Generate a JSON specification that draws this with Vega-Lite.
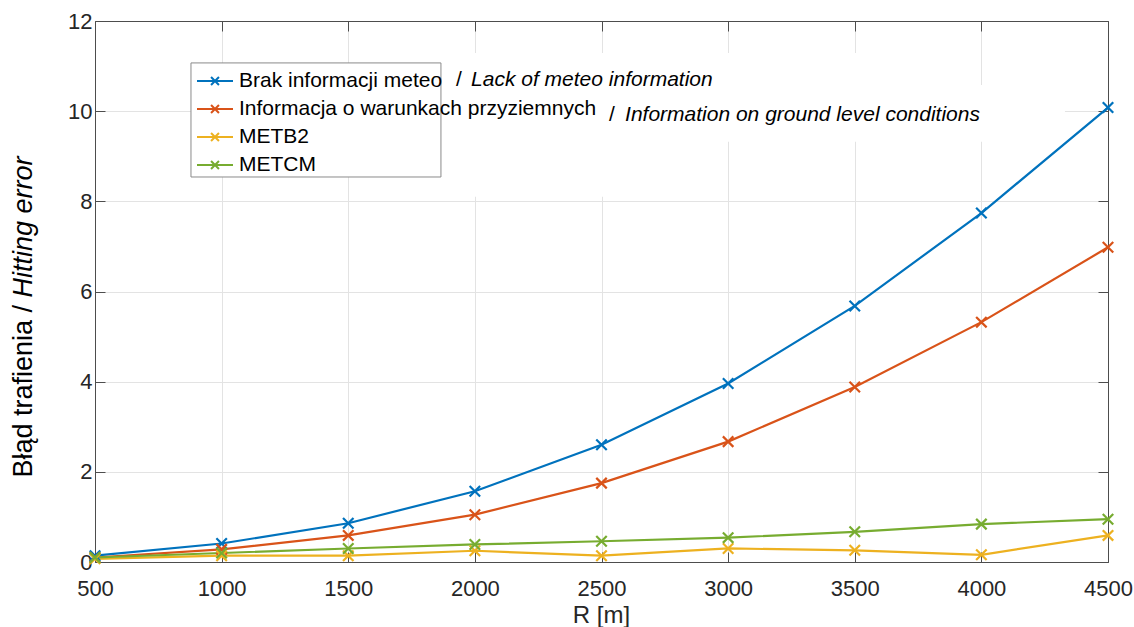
{
  "$schema": "https://vega.github.io/schema/vega-lite/v6.json",
  "width": 1013,
  "height": 541,
  "autosize": {"type": "none"},
  "padding": {"left": 95, "top": 21, "right": 26, "bottom": 65},
  "background": "white",
  "config": {
    "view": {"stroke": null},
    "font": "Liberation Sans",
    "axis": {
      "labelFont": "Liberation Sans",
      "titleFont": "Liberation Sans",
      "labelColor": "#262626",
      "titleColor": "#000000",
      "titleFontWeight": "normal",
      "domainColor": "#4d4d4d",
      "domainWidth": 1,
      "tickColor": "#4d4d4d",
      "tickWidth": 1,
      "tickSize": -10,
      "gridColor": "#e3e3e3",
      "gridWidth": 1,
      "labelFlush": false,
      "labelOverlap": false
    }
  },
  "datasets": {
    "errors": [
      {"R": 500, "err": 0.14, "series": "Brak informacji meteo"},
      {"R": 1000, "err": 0.41, "series": "Brak informacji meteo"},
      {"R": 1500, "err": 0.86, "series": "Brak informacji meteo"},
      {"R": 2000, "err": 1.57, "series": "Brak informacji meteo"},
      {"R": 2500, "err": 2.6, "series": "Brak informacji meteo"},
      {"R": 3000, "err": 3.96, "series": "Brak informacji meteo"},
      {"R": 3500, "err": 5.68, "series": "Brak informacji meteo"},
      {"R": 4000, "err": 7.74, "series": "Brak informacji meteo"},
      {"R": 4500, "err": 10.08, "series": "Brak informacji meteo"},
      {"R": 500, "err": 0.1, "series": "Informacja o warunkach przyziemnych"},
      {"R": 1000, "err": 0.28, "series": "Informacja o warunkach przyziemnych"},
      {"R": 1500, "err": 0.59, "series": "Informacja o warunkach przyziemnych"},
      {"R": 2000, "err": 1.05, "series": "Informacja o warunkach przyziemnych"},
      {"R": 2500, "err": 1.75, "series": "Informacja o warunkach przyziemnych"},
      {"R": 3000, "err": 2.67, "series": "Informacja o warunkach przyziemnych"},
      {"R": 3500, "err": 3.88, "series": "Informacja o warunkach przyziemnych"},
      {"R": 4000, "err": 5.32, "series": "Informacja o warunkach przyziemnych"},
      {"R": 4500, "err": 6.98, "series": "Informacja o warunkach przyziemnych"},
      {"R": 500, "err": 0.07, "series": "METB2"},
      {"R": 1000, "err": 0.14, "series": "METB2"},
      {"R": 1500, "err": 0.14, "series": "METB2"},
      {"R": 2000, "err": 0.25, "series": "METB2"},
      {"R": 2500, "err": 0.14, "series": "METB2"},
      {"R": 3000, "err": 0.3, "series": "METB2"},
      {"R": 3500, "err": 0.26, "series": "METB2"},
      {"R": 4000, "err": 0.16, "series": "METB2"},
      {"R": 4500, "err": 0.59, "series": "METB2"},
      {"R": 500, "err": 0.1, "series": "METCM"},
      {"R": 1000, "err": 0.2, "series": "METCM"},
      {"R": 1500, "err": 0.3, "series": "METCM"},
      {"R": 2000, "err": 0.39, "series": "METCM"},
      {"R": 2500, "err": 0.46, "series": "METCM"},
      {"R": 3000, "err": 0.54, "series": "METCM"},
      {"R": 3500, "err": 0.67, "series": "METCM"},
      {"R": 4000, "err": 0.84, "series": "METCM"},
      {"R": 4500, "err": 0.95, "series": "METCM"}
    ],
    "noteBackgrounds": [
      {"r0": 1866, "r1": 3797, "e0": 10.25, "e1": 11.29},
      {"r0": 2494, "r1": 4330, "e0": 9.32, "e1": 10.58},
      {"r0": 1866, "r1": 2573, "e0": 8.1, "e1": 11.29}
    ],
    "legendFrame": [
      {"r0": 879, "r1": 1866, "e0": 8.54, "e1": 11.07}
    ],
    "notes": [
      {"rSlash": 1925, "rText": 1985, "e": 10.558, "text": "Lack of meteo information"},
      {"rSlash": 2530, "rText": 2593, "e": 9.789, "text": "Information on ground level conditions"}
    ]
  },
  "resolve": {"axis": {"x": "independent", "y": "independent"}},
  "layer": [
    {
      "data": {"name": "noteBackgrounds"},
      "mark": {"type": "rect", "fill": "white", "strokeWidth": 0},
      "encoding": {
        "x": {
          "field": "r0", "type": "quantitative",
          "scale": {"domain": [500, 4500], "nice": false, "zero": false},
          "axis": {"orient": "top", "values": [500, 1000, 1500, 2000, 2500, 3000, 3500, 4000, 4500], "labels": false, "grid": false, "title": null}
        },
        "x2": {"field": "r1"},
        "y": {
          "field": "e0", "type": "quantitative",
          "scale": {"domain": [0, 12], "nice": false},
          "axis": {"orient": "right", "values": [0, 2, 4, 6, 8, 10, 12], "labels": false, "grid": false, "title": null}
        },
        "y2": {"field": "e1"}
      }
    },
    {
      "data": {"name": "legendFrame"},
      "mark": {"type": "rect", "fill": "white", "stroke": "#8a8a8a", "strokeWidth": 1},
      "encoding": {
        "x": {"field": "r0", "type": "quantitative", "scale": {"domain": [500, 4500], "nice": false, "zero": false}, "axis": null},
        "x2": {"field": "r1"},
        "y": {"field": "e0", "type": "quantitative", "scale": {"domain": [0, 12], "nice": false}, "axis": null},
        "y2": {"field": "e1"}
      }
    },
    {
      "data": {"name": "errors"},
      "mark": {
        "type": "line",
        "strokeWidth": 2.2,
        "point": {"shape": "M-1,-1L1,1M-1,1L1,-1", "filled": false, "size": 110, "strokeWidth": 2.2}
      },
      "encoding": {
        "x": {
          "field": "R", "type": "quantitative",
          "scale": {"domain": [500, 4500], "nice": false, "zero": false},
          "axis": {
            "orient": "bottom",
            "values": [500, 1000, 1500, 2000, 2500, 3000, 3500, 4000, 4500],
            "format": "d",
            "grid": true,
            "labelFontSize": 22,
            "labelPadding": 26,
            "title": "R [m]",
            "titleFontSize": 24,
            "titleX": 506,
            "titleY": 60,
            "titleAlign": "center",
            "titleBaseline": "alphabetic",
            "titleColor": "#262626"
          }
        },
        "y": {
          "field": "err", "type": "quantitative",
          "scale": {"domain": [0, 12], "nice": false},
          "axis": {
            "orient": "left",
            "values": [0, 2, 4, 6, 8, 10, 12],
            "format": "d",
            "grid": true,
            "labelFontSize": 22,
            "labelPadding": 13,
            "title": "Błąd trafienia / ",
            "titleFontSize": 27,
            "titleAngle": 270,
            "titleAlign": "left",
            "titleBaseline": "alphabetic",
            "titleX": -64,
            "titleY": 456
          }
        },
        "color": {
          "field": "series", "type": "nominal",
          "scale": {
            "domain": ["Brak informacji meteo", "Informacja o warunkach przyziemnych", "METB2", "METCM"],
            "range": ["#0072BD", "#D95319", "#EDB120", "#77AC30"]
          },
          "legend": {
            "orient": "none",
            "legendX": 107,
            "legendY": 47,
            "title": null,
            "symbolType": "M-1.5,0H1.5M-0.33,-0.33L0.33,0.33M-0.33,0.33L0.33,-0.33",
            "symbolSize": 576,
            "symbolStrokeWidth": 2,
            "symbolFillColor": "transparent",
            "labelFont": "Liberation Sans",
            "labelFontSize": 21,
            "labelColor": "#000000",
            "labelOffset": 11,
            "labelLimit": 700,
            "rowPadding": 5,
            "padding": 0,
            "zindex": 1
          }
        }
      }
    },
    {
      "data": {"name": "notes"},
      "mark": {"type": "text", "align": "left", "baseline": "alphabetic", "font": "Liberation Sans", "fontSize": 21, "color": "#000000"},
      "encoding": {
        "x": {"field": "rSlash", "type": "quantitative", "scale": {"domain": [500, 4500], "nice": false, "zero": false}, "axis": null},
        "y": {"field": "e", "type": "quantitative", "scale": {"domain": [0, 12], "nice": false}, "axis": null},
        "text": {"value": "/"}
      }
    },
    {
      "data": {"name": "notes"},
      "mark": {"type": "text", "align": "left", "baseline": "alphabetic", "font": "Liberation Sans", "fontSize": 21, "fontStyle": "italic", "color": "#000000"},
      "encoding": {
        "x": {"field": "rText", "type": "quantitative", "scale": {"domain": [500, 4500], "nice": false, "zero": false}, "axis": null},
        "y": {
          "field": "e", "type": "quantitative",
          "scale": {"domain": [0, 12], "nice": false},
          "axis": {
            "orient": "left",
            "labels": false,
            "ticks": false,
            "domain": false,
            "grid": false,
            "title": "Hitting error",
            "titleFontSize": 27,
            "titleFontStyle": "italic",
            "titleAngle": 270,
            "titleAlign": "left",
            "titleBaseline": "alphabetic",
            "titleX": -64,
            "titleY": 276
          }
        },
        "text": {"field": "text"}
      }
    }
  ]
}
